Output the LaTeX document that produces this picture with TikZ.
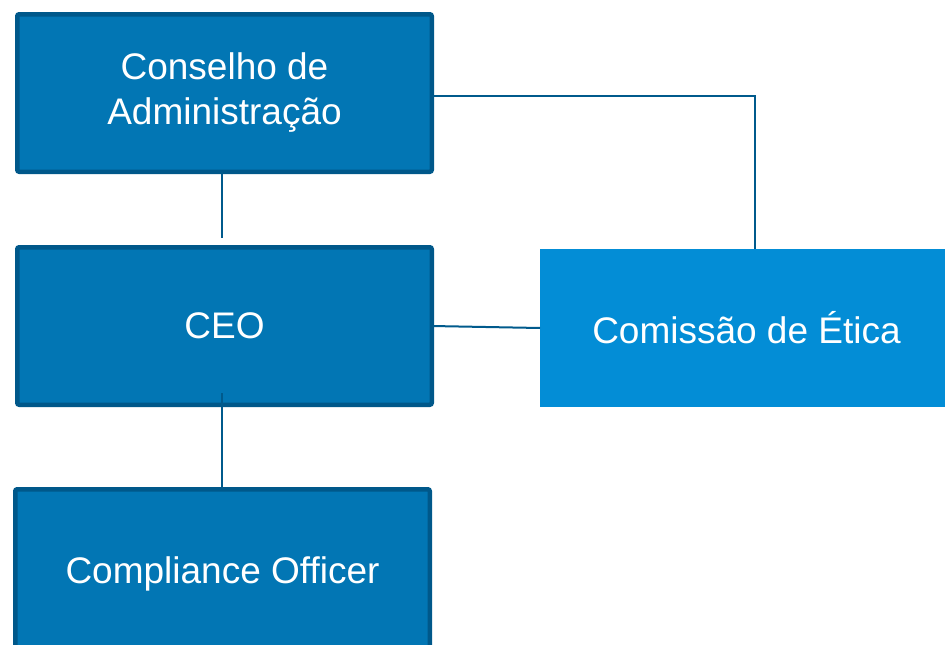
\documentclass[tikz,border=0pt]{standalone}
\usepackage{fontspec}
\setmainfont{Liberation Sans}
\definecolor{boxfill}{RGB}{2,118,180}
\definecolor{boxline}{RGB}{0,88,138}
\definecolor{comfill}{RGB}{3,141,214}
\definecolor{conn}{RGB}{0,90,140}
\tikzset{
  orgbox/.style={draw=boxline, line width=4.5pt, fill=boxfill, rounded corners=2pt,
    text=white, align=center, inner sep=0pt, outer sep=0pt,
    font=\fontsize{37}{45}\selectfont},
  combox/.style={fill=comfill, text=white, align=center, inner sep=0pt, outer sep=0pt,
    font=\fontsize{37}{45}\selectfont},
  link/.style={draw=conn, line width=2pt}
}
\begin{document}
\begin{tikzpicture}[x=1pt,y=-1pt]
\clip (0,0) rectangle (945,645);
\node[orgbox, minimum width=414.5pt, minimum height=157.5pt] (board) at (224.5,93) {\raisebox{-3pt}{\begin{tabular}{@{}c@{}}Conselho de\\Administração\end{tabular}}};
\node[orgbox, minimum width=414.5pt, minimum height=157.5pt] (ceo) at (224.5,326) {CEO};
\node[orgbox, minimum width=414.5pt, minimum height=168.5pt, anchor=north] (comp) at (222.5,489.25) {Compliance Officer};
\node[combox, minimum width=410pt, minimum height=158pt, anchor=north west] (com) at (540,249) {\hspace*{3pt}Comissão de Ética};
\coordinate (c1) at (222,238);
\coordinate (c2) at (222,393);
\coordinate (c3) at (755,0);
\draw[link] (c1 |- board.south) -- (c1);
\draw[link] (c2) -- (c2 |- comp.north);
\draw[link] ([yshift=-3pt]board.east) -| (c3 |- com.north);
\draw[link] (ceo.east) -- (com.west);
\end{tikzpicture}
\end{document}
